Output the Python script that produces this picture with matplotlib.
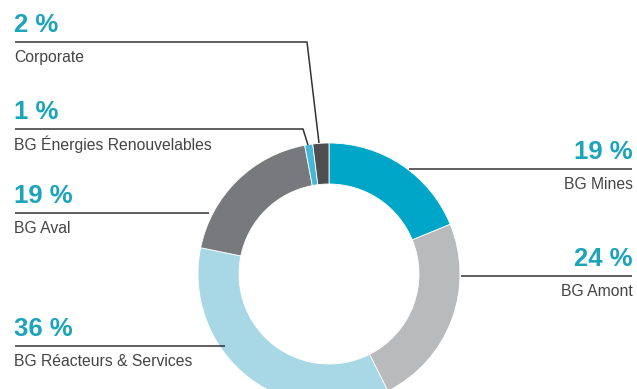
import matplotlib.pyplot as plt

plt.rcParams['font.family'] = ['Liberation Sans', 'DejaVu Sans']

# ------------------------------------------------------------
# données
# ------------------------------------------------------------
labels = ['BG Mines', 'BG Amont', 'BG Réacteurs & Services', 'BG Aval',
          'BG Énergies Renouvelables', 'Corporate']
values = [19, 24, 36, 19, 1, 2]
colors = ['#00a6c7', '#b9babc', '#a8d8e5', '#78797c', '#45b8da', '#4e4e50']

# ------------------------------------------------------------
# figure en coordonnées pixel (y vers le haut)
# ------------------------------------------------------------
W, H = 637, 389
fig = plt.figure(figsize=(W / 100, H / 100), dpi=100)
ax = fig.add_axes([0, 0, 1, 1])

cx, cy, R = 329, H - 274, 131

ax.pie(values, colors=colors, startangle=90, counterclock=False,
       center=(cx, cy), radius=R,
       wedgeprops=dict(width=41, edgecolor='white', linewidth=0.6))

ax.set_xlim(0, W)
ax.set_ylim(0, H)
ax.set_aspect('equal')
ax.axis('off')

pct_color = '#1ba4ba'
txt_color = '#444444'
line_color = '#333333'


def Y(y):
    return H - y


# annotations : (index, côté, y ligne, trajet de la ligne)
notes = [
    (5, 'left', 42, [(15, 42), (307, 42), (319, 143)]),
    (4, 'left', 129, [(15, 129), (303, 129), (308, 145)]),
    (3, 'left', 213, [(15, 213), (209, 213)]),
    (2, 'left', 346, [(15, 346), (225, 346)]),
    (0, 'right', 169, [(409, 169), (632, 169)]),
    (1, 'right', 276, [(461, 276), (632, 276)]),
]

for i, side, ly, path in notes:
    xs = [p[0] for p in path]
    ys = [Y(p[1]) for p in path]
    ax.plot(xs, ys, color=line_color, linewidth=1.1, solid_capstyle='butt')
    if side == 'left':
        x, ha = 14, 'left'
    else:
        x, ha = 633, 'right'
    ax.text(x, Y(ly - 17), f'{values[i]} %', ha=ha, va='center',
            fontsize=18.5, fontweight='bold', color=pct_color)
    ax.text(x, Y(ly + 15), labels[i], ha=ha, va='center',
            fontsize=11.3, color=txt_color)

fig.patch.set_facecolor('white')
plt.savefig('out.png', dpi=100)
